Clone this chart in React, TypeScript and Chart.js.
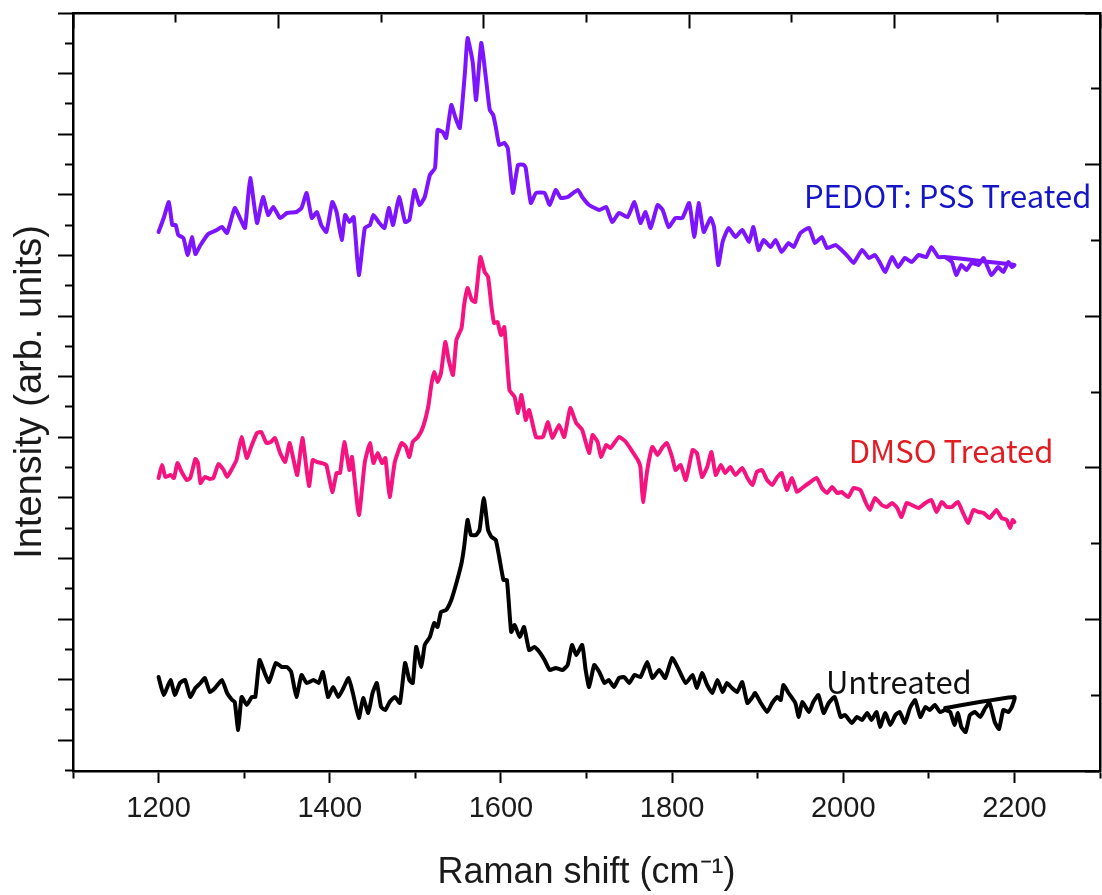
import React, { useEffect, useRef } from 'react';
import { Chart, registerables } from 'chart.js';

Chart.register(...registerables);

// ---- Data (Raman shift in cm^-1, intensity in arbitrary units) ----
const PEDOT_X = [1200,1206,1212,1216,1220,1223,1229,1234,1239,1243,1249,1258,1268,1274,1280,1289,1295,1301,1307,1315,1322,1328,1334,1342,1350,1361,1367,1373,1379,1385,1390,1396,1403,1408,1414,1418,1423,1428,1434,1441,1447,1451,1458,1464,1469,1474,1481,1488,1493,1499,1505,1511,1517,1523,1526,1532,1536,1542,1547,1552,1558,1561,1567,1571,1577,1583,1587,1591,1594,1598,1604,1608,1614,1620,1627,1629,1635,1641,1651,1657,1664,1670,1678,1690,1695,1703,
  1715,1723,1730,1738,1748,1756,1763,1769,1775,1783,1789,1796,1804,1812,1820,1826,1831,1837,1845,1849,1854,1859,1866,1874,1882,1890,1895,1901,1907,1915,1921,1928,1936,1942,1950,1960,1967,1975,1981,1991,1998,2006,2012,2022,2030,2037,2043,2049,2057,2064,2072,2080,2088,2097,2103,2111,2119,2127,2132,2138,2144,2150,2158,2164,2173,2181,2187,2193,2197,2200,2119];
const PEDOT_Y = [539,553,569,546,546,536,533,516,534,517,526,537,541,544,538,563,553,543,593,548,574,556,564,553,558,559,563,578,553,559,546,539,569,559,531,556,549,554,496,543,546,556,548,543,563,546,574,549,551,581,566,574,596,603,641,639,633,666,653,643,699,733,709,671,728,689,661,656,644,626,628,623,578,606,606,603,568,578,578,566,581,573,574,581,574,566,
  561,564,549,558,554,569,548,559,543,566,561,544,553,553,568,534,568,539,553,544,506,529,543,534,541,529,544,521,531,524,531,519,528,524,538,543,528,534,523,526,521,514,508,521,513,516,508,499,514,504,513,509,516,514,524,514,514,509,496,506,501,508,506,513,496,504,499,509,504,506,514];

const DMSO_X = [1200,1204,1208,1214,1218,1222,1227,1233,1237,1243,1246,1249,1254,1260,1264,1270,1276,1280,1285,1291,1297,1303,1309,1315,1320,1326,1331,1336,1342,1348,1353,1357,1362,1368,1373,1376,1380,1385,1390,1396,1403,1408,1412,1417,1423,1426,1434,1441,1447,1451,1456,1461,1465,1470,1476,1484,1489,1493,1497,1503,1509,1515,1519,1522,1526,1530,1535,1539,1544,1548,1554,1557,1561,1566,1570,1576,1581,1585,1589,1592,1596,1600,1604,1610,1616,1620,1624,1629,1633,1641,1649,1655,1660,1668,1674,1681,1688,1695,1703,
  1707,1713,1717,1723,1728,1738,1746,1754,1760,1763,1766,1771,1777,1783,1789,1794,1800,1804,1810,1816,1824,1829,1835,1841,1846,1851,1857,1862,1868,1874,1882,1888,1894,1899,1905,1911,1917,1923,1928,1934,1940,1946,1952,1960,1969,1975,1981,1987,1993,1998,2006,2012,2020,2026,2031,2037,2045,2051,2057,2063,2068,2074,2080,2088,2096,2103,2109,2115,2121,2127,2134,2140,2146,2152,2158,2164,2171,2179,2185,2191,2195,2198,2200];
const DMSO_Y = [293,306,294,296,293,308,299,291,293,312,308,288,294,292,293,307,301,294,301,311,334,313,326,338,339,328,329,333,318,309,328,314,296,333,301,285,311,309,308,306,279,298,298,329,301,314,256,309,328,308,318,308,313,274,309,328,324,314,329,334,344,364,388,399,389,398,429,411,396,431,443,466,483,471,469,514,499,494,464,448,449,436,444,381,374,358,376,351,361,334,334,349,333,346,334,363,348,341,318,
  336,329,314,326,323,334,329,319,311,304,269,301,324,316,324,328,314,301,306,291,321,318,294,304,319,296,306,298,304,296,303,293,286,299,301,291,286,294,298,281,293,279,283,288,293,283,278,284,278,279,274,283,281,269,261,273,266,264,268,263,254,268,266,263,268,271,259,269,264,264,269,258,248,261,259,258,253,261,253,251,243,251,249];

const UNTREATED_X = [1200,1206,1214,1219,1225,1231,1237,1243,1249,1254,1260,1266,1274,1280,1286,1289,1293,1297,1303,1309,1313,1318,1324,1329,1337,1344,1350,1355,1361,1367,1373,1381,1387,1392,1398,1404,1410,1416,1422,1427,1434,1439,1445,1450,1455,1460,1465,1470,1476,1482,1488,1493,1497,1501,1507,1511,1517,1522,1526,1530,1536,1542,1548,1554,1557,1561,1565,1571,1575,1580,1585,1589,1594,1598,1603,1607,1612,1616,1622,1627,1633,1639,1645,1651,1657,1664,1672,1678,1683,1688,1695,1699,1703,
  1709,1715,1721,1726,1732,1738,1744,1750,1756,1763,1771,1777,1785,1792,1800,1808,1816,1824,1829,1835,1841,1847,1853,1859,1864,1870,1876,1882,1888,1894,1897,1903,1911,1917,1923,1927,1930,1936,1944,1948,1952,1960,1965,1971,1977,1983,1990,1997,2002,2010,2016,2022,2028,2033,2039,2043,2049,2055,2061,2066,2072,2078,2084,2090,2096,2101,2107,2113,2119,2125,2130,2134,2138,2143,2148,2154,2160,2166,2171,2177,2182,2187,2193,2197,2200,2119];
const UNTREATED_Y = [94,76,91,76,88,91,74,83,88,93,79,83,91,78,71,69,41,74,66,74,74,111,98,89,108,104,104,99,74,96,88,91,88,99,74,84,74,83,93,78,53,73,58,78,88,64,61,69,74,68,108,91,88,124,104,126,134,148,144,159,161,171,188,208,224,251,236,236,241,273,241,234,231,214,191,191,139,146,134,144,121,124,119,111,101,103,101,106,126,116,126,101,84,
  106,99,88,91,84,93,94,88,96,94,109,93,101,93,113,101,88,96,83,98,86,78,91,79,88,83,79,89,68,74,78,69,59,68,74,71,86,78,68,54,69,59,69,76,58,68,74,54,56,48,54,51,58,51,59,44,58,46,56,59,48,63,71,54,64,61,66,59,61,59,46,58,44,39,56,59,54,63,68,49,42,61,59,64,74,63];

// ---- Axes ----
const X_MIN = 1100;
const X_MAX = 2300;
const Y_MIN = 0;
const Y_MAX = 758;
const X_TICK_LABELS = ['1200', '1400', '1600', '1800', '2000', '2200'];
const LEFT_TICKS = Array.from({ length: 26 }, (_, j) => Y_MAX - 30.3 * j); // even index = major
const RIGHT_TICKS = Array.from({ length: 11 }, (_, k) => (Y_MAX * k) / 10); // even index = major
const TOP_TICKS = Array.from({ length: 11 }, (_, k) => X_MIN + 120 * k); // even index = major

const SERIES_NAMES = ['PEDOT: PSS Treated', 'DMSO Treated', 'Untreated'];
const LINE_COLORS = ['#7d14ff', '#f5147f', '#000000'];
const LABEL_COLORS = ['#1515c8', '#e11d23', '#111111'];
const LABEL_X = [2122, 2126, 2065];
const LABEL_Y = [575, 320, 89];

const FONT = '"Liberation Sans", Arial, sans-serif';
const LABEL_FONT = '"Noto Sans CJK SC", "Noto Sans", sans-serif';

const toPoints = (xs: number[], ys: number[]) => xs.map((x, i) => ({ x, y: ys[i] }));

const seriesLabels = {
  id: 'seriesLabels',
  afterDatasetsDraw(chart: any) {
    const { ctx, scales } = chart;
    ctx.save();
    ctx.font = `31px ${LABEL_FONT}`;
    ctx.textAlign = 'center';
    ctx.textBaseline = 'middle';
    SERIES_NAMES.forEach((name, i) => {
      ctx.fillStyle = LABEL_COLORS[i];
      ctx.fillText(name, scales.x.getPixelForValue(LABEL_X[i]), scales.y.getPixelForValue(LABEL_Y[i]));
    });
    ctx.restore();
  },
};

const zeroWidth = (s: any) => { s.width = 0; };
const zeroHeight = (s: any) => { s.height = 0; };

export default function App() {
  const ref = useRef<HTMLCanvasElement>(null);

  useEffect(() => {
    if (!ref.current) return;
    const xs = [PEDOT_X, DMSO_X, UNTREATED_X];
    const ys = [PEDOT_Y, DMSO_Y, UNTREATED_Y];
    const chart = new Chart(ref.current, {
      type: 'line',
      data: {
        datasets: SERIES_NAMES.map((name, i) => ({
          label: name,
          data: toPoints(xs[i], ys[i]),
          borderColor: LINE_COLORS[i],
          backgroundColor: LINE_COLORS[i],
          borderWidth: 4,
          pointRadius: 0,
          tension: 0.15,
          fill: false,
          borderJoinStyle: 'round',
          borderCapStyle: 'round',
          xAxisID: 'x',
          yAxisID: 'y',
        })),
      },
      options: {
        animation: false,
        responsive: false,
        devicePixelRatio: 1,
        layout: { padding: { left: 0, top: 13, right: 2, bottom: 0 } },
        plugins: { legend: { display: false }, tooltip: { enabled: false } },
        scales: {
          x: {
            type: 'linear',
            position: 'bottom',
            min: X_MIN,
            max: X_MAX,
            afterFit: (s: any) => { s.height = 124; s.paddingLeft = 0; s.paddingRight = 0; },
            ticks: {
              stepSize: 100,
              autoSkip: false,
              maxRotation: 0,
              padding: 9,
              color: '#1a1a1a',
              font: { family: FONT, size: 29 },
              callback: (v: any) => (X_TICK_LABELS.includes(String(v)) ? String(v) : ''),
            },
            grid: {
              drawOnChartArea: false,
              drawTicks: true,
              tickLength: 12,
              tickWidth: 2,
              tickColor: '#000',
              tickBorderDash: (c: any) => (c.tick && c.tick.value % 200 === 0 ? [] : [6, 100]),
              tickBorderDashOffset: 0,
            },
            border: { display: true, color: '#000', width: 2.5 },
            title: {
              display: true,
              text: 'Raman shift (cm⁻¹)',
              color: '#1a1a1a',
              font: { family: FONT, size: 36 },
              padding: { top: 0, bottom: 0 },
            },
          },
          y: {
            type: 'linear',
            position: 'left',
            min: Y_MIN,
            max: Y_MAX,
            afterFit: (s: any) => { s.width = 73; s.paddingTop = 0; s.paddingBottom = 0; },
            afterBuildTicks: (s: any) => { s.ticks = LEFT_TICKS.map((v) => ({ value: v })); },
            ticks: { display: false },
            grid: {
              drawOnChartArea: false,
              drawTicks: true,
              tickLength: 15,
              tickWidth: 2,
              tickColor: '#000',
              tickBorderDash: (c: any) => (c.index % 2 === 0 ? [] : [8, 100]),
              tickBorderDashOffset: (c: any) => (c.index % 2 === 0 ? 0 : 101),
            },
            border: { display: true, color: '#000', width: 2.5 },
            title: {
              display: true,
              text: 'Intensity (arb. units)',
              color: '#1a1a1a',
              font: { family: FONT, size: 38 },
              padding: { top: 8, bottom: 0 },
            },
          },
          x2: {
            type: 'linear',
            axis: 'x',
            position: { y: Y_MAX },
            min: X_MIN,
            max: X_MAX,
            afterFit: zeroHeight,
            afterBuildTicks: (s: any) => { s.ticks = TOP_TICKS.map((v) => ({ value: v })); },
            ticks: { display: false },
            grid: {
              drawOnChartArea: false,
              drawTicks: true,
              tickLength: 14,
              tickWidth: 2,
              tickColor: '#000',
              tickBorderDash: (c: any) => (c.index % 2 === 0 ? [] : [8, 100]),
              tickBorderDashOffset: 0,
            },
            border: { display: true, color: '#000', width: 2.5 },
          },
          y2: {
            type: 'linear',
            axis: 'y',
            position: { x: X_MAX },
            min: Y_MIN,
            max: Y_MAX,
            afterFit: zeroWidth,
            afterBuildTicks: (s: any) => { s.ticks = RIGHT_TICKS.map((v) => ({ value: v })); },
            ticks: { display: false },
            grid: {
              drawOnChartArea: false,
              drawTicks: true,
              tickLength: 14,
              tickWidth: 2,
              tickColor: '#000',
              tickBorderDash: (c: any) => (c.index % 2 === 0 ? [] : [8, 100]),
              tickBorderDashOffset: 0,
            },
            border: { display: true, color: '#000', width: 2.5 },
          },
        },
      } as any,
      plugins: [seriesLabels],
    });
    return () => chart.destroy();
  }, []);

  return (
    <div style={{ position: 'absolute', left: 0, top: 0, width: 1102, height: 895, background: '#fff' }}>
      <canvas ref={ref} width={1102} height={895} style={{ display: 'block', width: 1102, height: 895 }} />
    </div>
  );
}
